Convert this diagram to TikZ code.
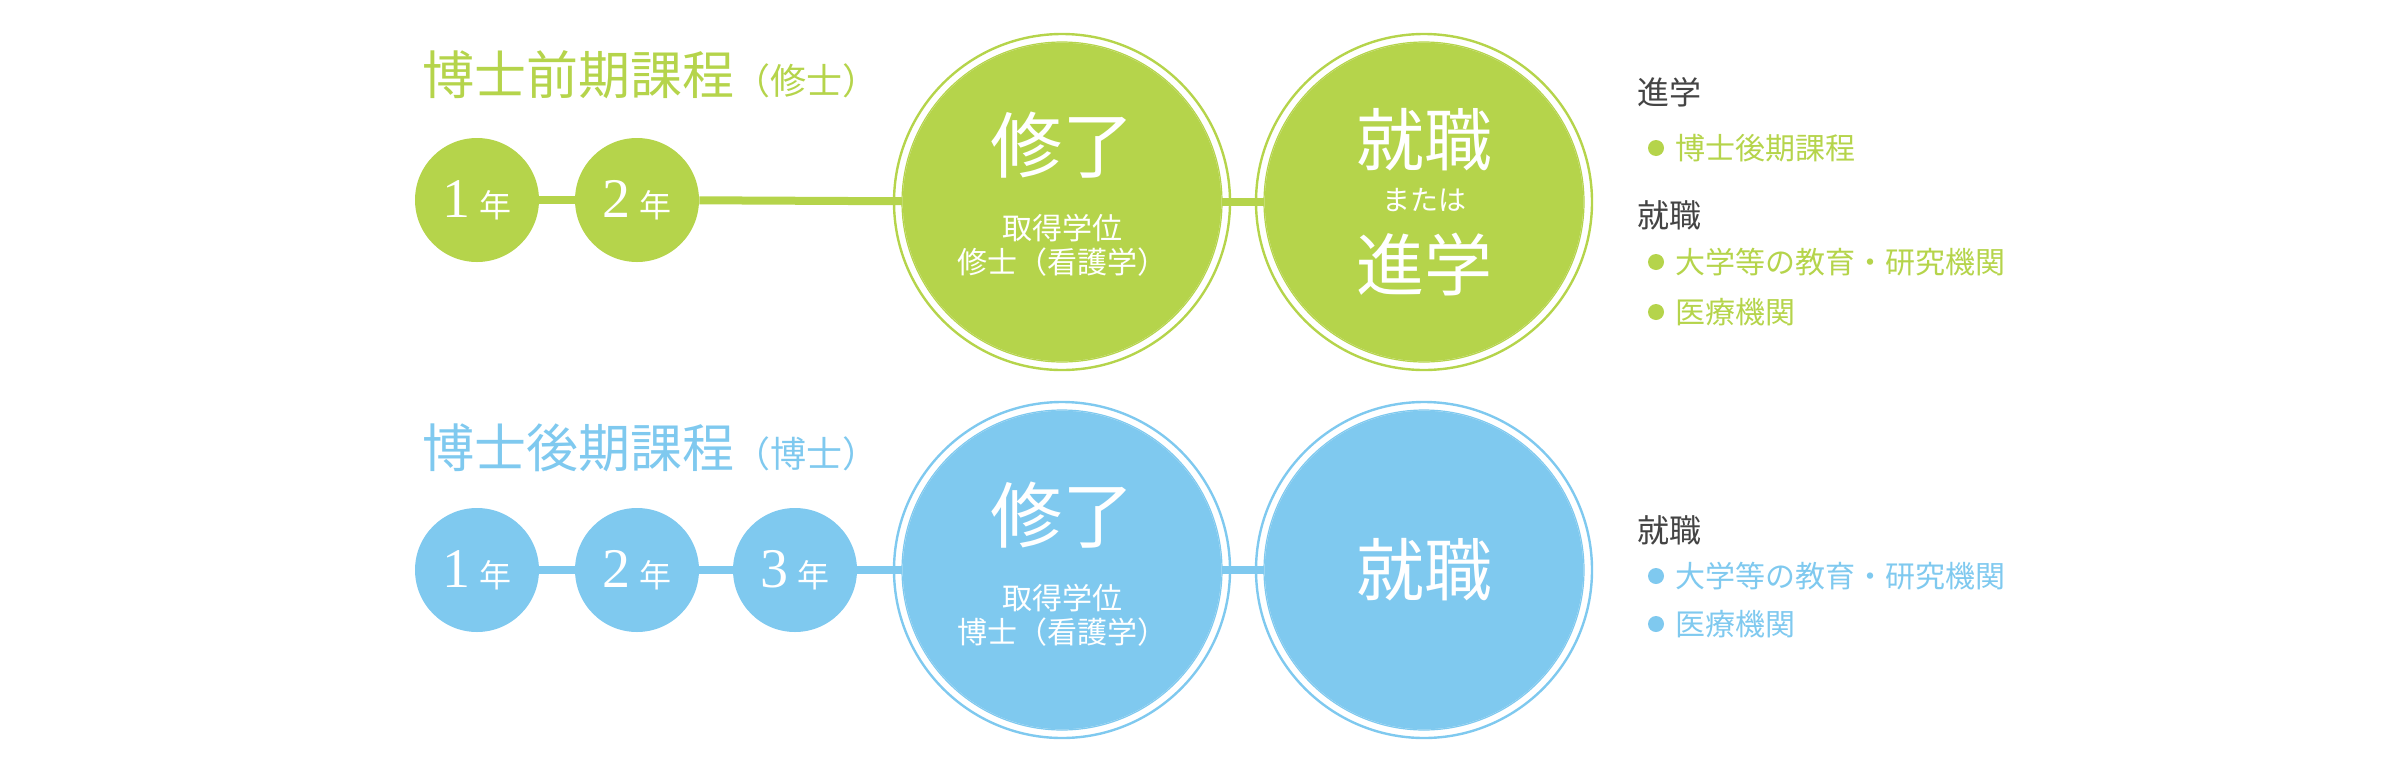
\documentclass[tikz,border=0pt]{standalone}
\usepackage{fontspec}
\setmainfont{Noto Sans CJK JP}
\newfontfamily\numf{Liberation Serif}
\definecolor{gr}{HTML}{B5D44B}
\definecolor{bl}{HTML}{7FC9EF}
\definecolor{tx}{HTML}{444444}
\newcommand{\fs}[1]{\fontsize{#1}{#1}\selectfont}
\begin{document}
\begin{tikzpicture}[x=0.5pt,y=-0.5pt,
 yr/.style={circle,fill=#1,minimum size=62pt,inner sep=0,text=white},
 big/.style={circle,fill=#1,minimum size=160pt,inner sep=0,text=white,double=#1,draw=white,line width=0pt},
 ln/.style={line width=4pt,draw=#1},
 hd/.style={anchor=west,text=tx,font=\fs{16}},
 it/.style={anchor=west,text=#1,font=\fs{15}}]
\useasboundingbox (0,0) rectangle (2400,772);
% top
\node[anchor=west,text=gr] (t1) at (415,75) {\fs{26}博士前期課程\fs{18}（修士）};
\node[yr=gr] (a1) at (477,200) {\fs{28}\numf 1\,\fs{16}\rmfamily 年};
\node[yr=gr] (a2) at (637,200) {\fs{28}\numf 2\,\fs{16}\rmfamily 年};
\node[big=gr] (a3) at (1062,202) {};
\node[big=gr] (a4) at (1424,202) {};
\foreach \c in {a3,a4} \draw[gr,line width=1.2pt] (\c) circle (84pt);
\draw[ln=gr] (a1)--(a2); \draw[ln=gr] (a2)--(a3); \draw[ln=gr] (a3)--(a4);
\node[text=white,font=\fs{36}] (a3t) at (1062,145) {修了};
\node[text=white,font=\fs{15},align=center] (a3s) at (1062,245) {取得学位\\[2pt]修士（看護学）};
\node[text=white,font=\fs{34}] (a4t) at (1424,140) {就職};
\node[text=white,font=\fs{14}] (a4m) at (1424,200) {または};
\node[text=white,font=\fs{34}] (a4b) at (1424,265) {進学};
\node[hd] (r1) at (1630,92) {進学};
\fill[gr] (1656,148) circle (4pt); \node[it=gr] (r2) at (1668,148) {博士後期課程};
\node[hd] (r3) at (1630,215) {就職};
\fill[gr] (1656,262) circle (4pt); \node[it=gr] (r4) at (1668,262) {大学等の教育・研究機関};
\fill[gr] (1656,312) circle (4pt); \node[it=gr] (r5) at (1668,312) {医療機関};
% bottom
\node[anchor=west,text=bl] (t2) at (415,448) {\fs{26}博士後期課程\fs{18}（博士）};
\node[yr=bl] (b1) at (477,570) {\fs{28}\numf 1\,\fs{16}\rmfamily 年};
\node[yr=bl] (b2) at (637,570) {\fs{28}\numf 2\,\fs{16}\rmfamily 年};
\node[yr=bl] (b3) at (795,570) {\fs{28}\numf 3\,\fs{16}\rmfamily 年};
\node[big=bl] (b4) at (1062,570) {};
\node[big=bl] (b5) at (1424,570) {};
\foreach \c in {b4,b5} \draw[bl,line width=1.2pt] (\c) circle (84pt);
\draw[ln=bl] (b1)--(b2); \draw[ln=bl] (b2)--(b3); \draw[ln=bl] (b3)--(b4); \draw[ln=bl] (b4)--(b5);
\node[text=white,font=\fs{36}] (b4t) at (1062,515) {修了};
\node[text=white,font=\fs{15},align=center] (b4s) at (1062,615) {取得学位\\[2pt]博士（看護学）};
\node[text=white,font=\fs{34}] (b5t) at (1424,570) {就職};
\node[hd] (s1) at (1630,530) {就職};
\fill[bl] (1656,576) circle (4pt); \node[it=bl] (s2) at (1668,576) {大学等の教育・研究機関};
\fill[bl] (1656,624) circle (4pt); \node[it=bl] (s3) at (1668,624) {医療機関};
\end{tikzpicture}
\end{document}
